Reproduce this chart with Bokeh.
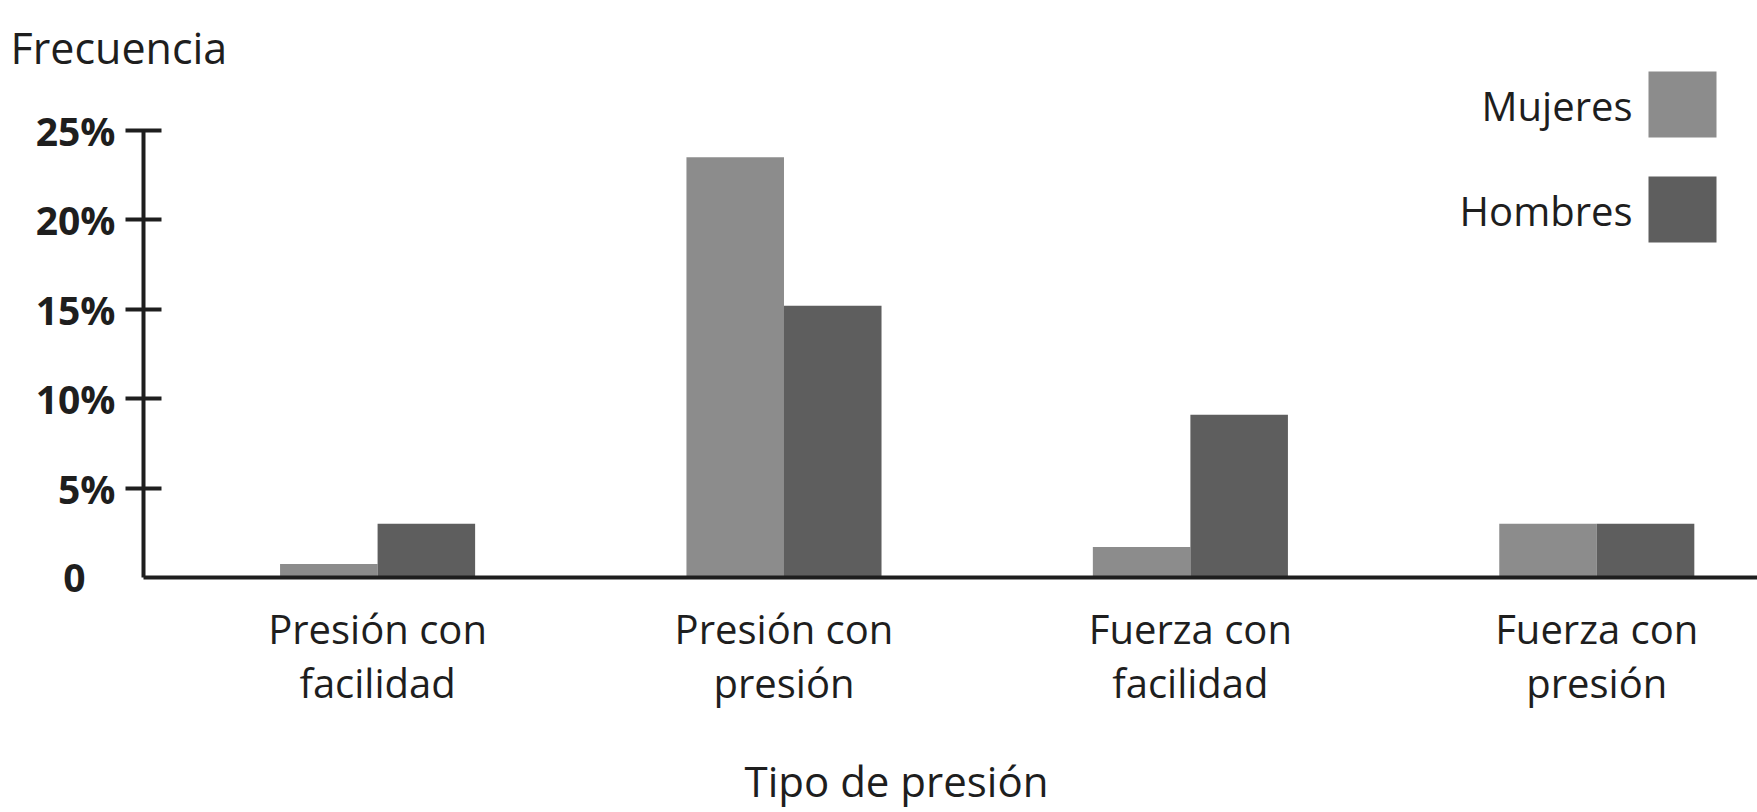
from bokeh.plotting import figure
from bokeh.models import Range1d, FixedTicker, Label, ColumnDataSource, LinearAxis
from bokeh.transform import dodge
from bokeh.embed import file_html
from bokeh.resources import INLINE

# ---- data ----
categories = ["Presión con\nfacilidad", "Presión con\npresión", "Fuerza con\nfacilidad", "Fuerza con\npresión"]
mujeres = [0.75, 23.5, 1.7, 3.0]
hombres = [3.0, 15.2, 9.1, 3.0]
series_names = ["Mujeres", "Hombres"]
y_ticks = [0, 5, 10, 15, 20, 25]
y_tick_labels = ["0", "5%", "10%", "15%", "20%", "25%"]
x_title = "Tipo de presión"
y_title = "Frecuencia"

# ---- layout ----
W, H = 1757, 812
LEFT = 143
AXIS_Y = 577          # pixel row of the x axis
TOP = 66              # pixel row of the frame top
BOTTOM = H - AXIS_Y
X0 = -0.576
UNIT_PX = 406.4
X1 = X0 + (W - LEFT) / UNIT_PX
PX_PER_PCT = 17.88
Y1 = (AXIS_Y - TOP) / PX_PER_PCT
BAR_W = 0.24
C_M = "#8c8c8c"
C_H = "#5e5e5e"
INK = "#1e1e1e"
FONT = "Open Sans"


def dx(px):
    return (px - LEFT) / UNIT_PX + X0


def dy(py):
    return (AXIS_Y - py) / PX_PER_PCT


src = ColumnDataSource(dict(x=list(range(len(categories))), m=mujeres, h=hombres))

p = figure(width=W, height=H, output_backend="svg", toolbar_location=None,
           x_range=Range1d(X0, X1), y_range=Range1d(0, Y1),
           min_border_left=LEFT, min_border_right=0, min_border_top=TOP,
           min_border_bottom=BOTTOM)
p.outline_line_color = None
p.grid.visible = False
p.background_fill_color = "white"
p.border_fill_color = "white"

# y title as plot title (top-left)
p.title.text = y_title
p.title.align = "left"
p.title.offset = 10 - LEFT
p.title.standoff = -20
p.title.text_font = FONT
p.title.text_font_size = "43px"
p.title.text_font_style = "normal"
p.title.text_color = INK

p.vbar(x=dodge("x", -BAR_W / 2), top="m", width=BAR_W, source=src,
       fill_color=C_M, line_color=None)
p.vbar(x=dodge("x", BAR_W / 2), top="h", width=BAR_W, source=src,
       fill_color=C_H, line_color=None)

# x axis
xa = p.xaxis[0]
xa.ticker = FixedTicker(ticks=list(range(len(categories))))
xa.major_label_overrides = {i: c for i, c in enumerate(categories)}
xa.major_tick_in = 0
xa.major_tick_out = 0
xa.minor_tick_line_color = None
xa.axis_line_width = 4
xa.axis_line_color = INK
xa.major_label_text_font = FONT
xa.major_label_text_font_size = "40px"
xa.major_label_text_color = INK
xa.major_label_text_line_height = 0.99
xa.major_label_standoff = 23

# x title: a second, line-less axis below, centred where the reference puts it
xt_pos = dx(896)
xt = LinearAxis(ticker=FixedTicker(ticks=[xt_pos]),
                major_label_overrides={xt_pos: x_title})
xt.axis_line_color = None
xt.major_tick_line_color = None
xt.minor_tick_line_color = None
xt.major_tick_in = 0
xt.major_tick_out = 0
xt.major_label_text_font = FONT
xt.major_label_text_font_size = "42px"
xt.major_label_text_color = INK
xt.major_label_standoff = 39
p.add_layout(xt, "below")

# y axis: ticks with labels for 5..25 %
ya = p.yaxis[0]
ya.ticker = FixedTicker(ticks=y_ticks[1:])
ya.major_label_overrides = {t: l for t, l in zip(y_ticks[1:], y_tick_labels[1:])}
ya.bounds = (0, 25)
ya.minor_tick_line_color = None
ya.major_tick_in = 18
ya.major_tick_out = 18
ya.major_tick_line_width = 4
ya.major_tick_line_color = INK
ya.axis_line_width = 4
ya.axis_line_color = INK
ya.major_label_text_font = FONT
ya.major_label_text_font_size = "39px"
ya.major_label_text_font_style = "bold"
ya.major_label_text_color = INK
ya.major_label_text_align = "center"
ya.major_label_standoff = 10

# zero label without a tick mark
y0 = LinearAxis(ticker=FixedTicker(ticks=y_ticks[:1]),
                major_label_overrides={y_ticks[0]: y_tick_labels[0]})
y0.axis_line_color = None
y0.major_tick_line_color = None
y0.minor_tick_line_color = None
y0.major_tick_in = 0
y0.major_tick_out = 0
y0.major_label_text_font = FONT
y0.major_label_text_font_size = "39px"
y0.major_label_text_font_style = "bold"
y0.major_label_text_color = INK
y0.major_label_standoff = -53
p.add_layout(y0, "left")

# legend (label left, swatch right)
colors = [C_M, C_H]
box_tops = [71, 176]
for name, col, top in zip(series_names, colors, box_tops):
    p.quad(left=dx(1648), right=dx(1716), top=dy(top), bottom=dy(top + 66),
           fill_color=col, line_color=None)
    p.add_layout(Label(x=dx(1632), y=dy(top + 34), text=name, text_font=FONT,
                       text_font_size="40px", text_color=INK,
                       text_align="right", text_baseline="alphabetic"))

open("out.html", "w").write(file_html(p, INLINE))
